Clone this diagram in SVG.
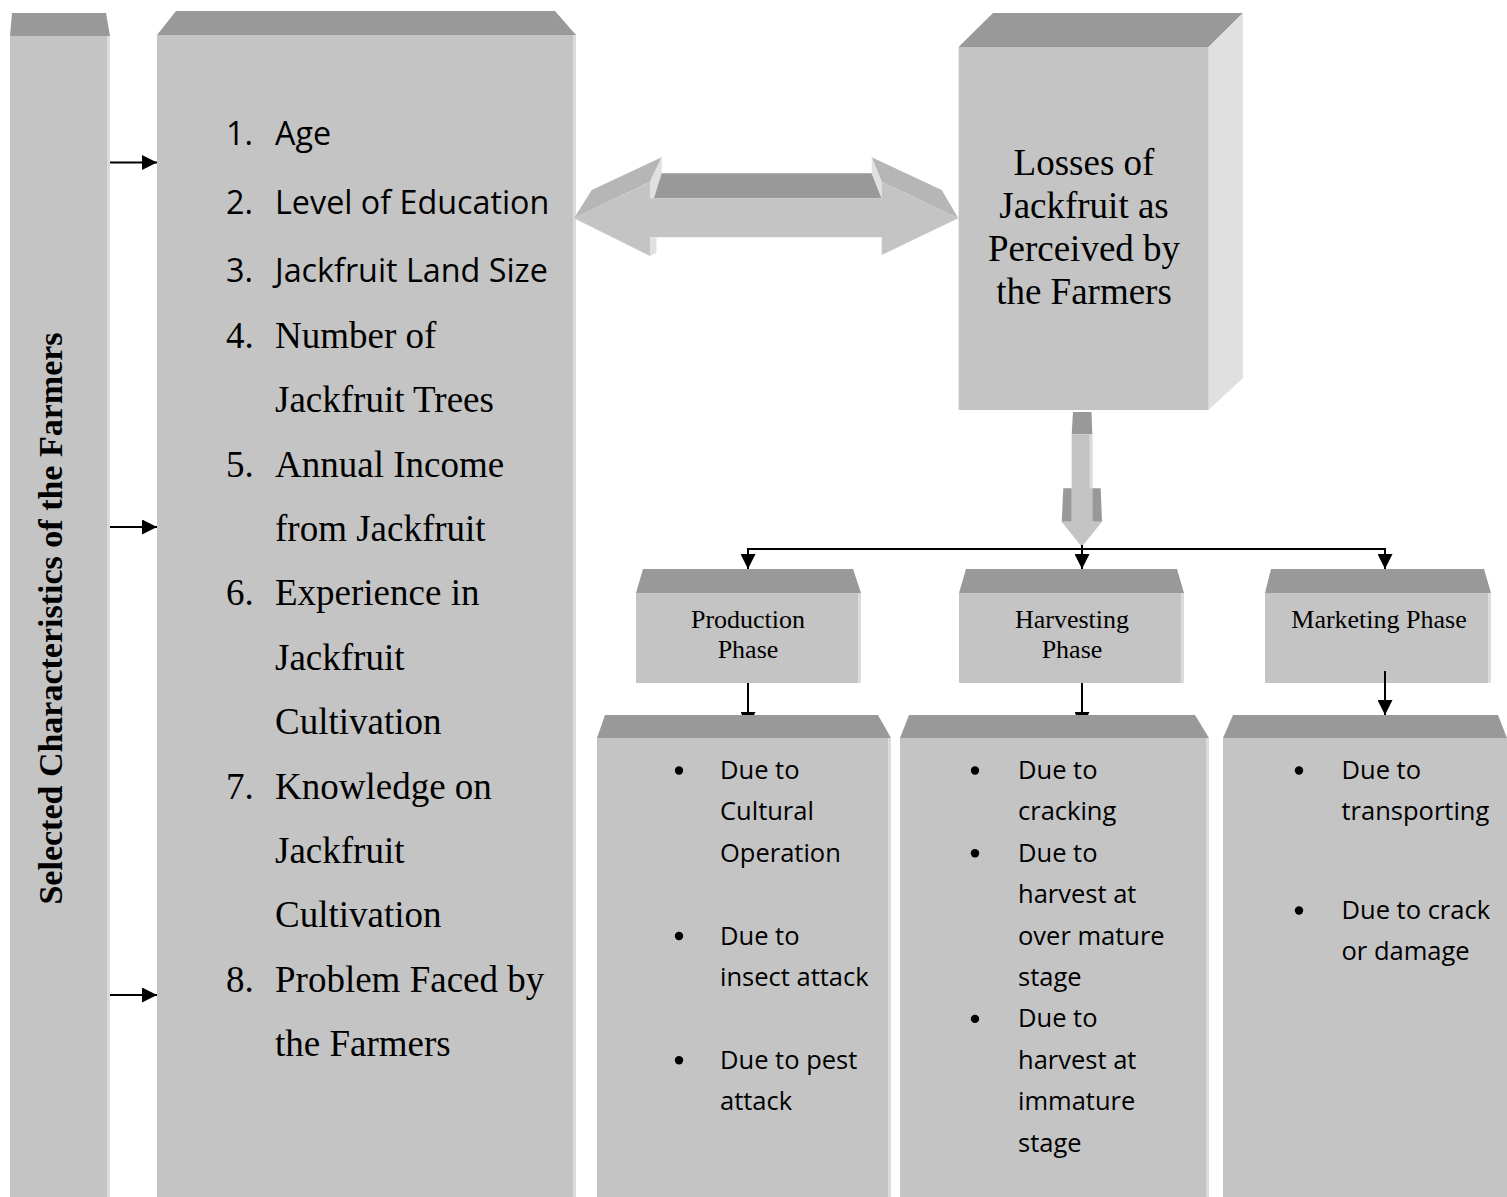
<svg xmlns="http://www.w3.org/2000/svg" width="1507" height="1197" viewBox="0 0 1507 1197">
<style>
.body{fill:#c4c4c4}
.cap{fill:#999999}
.side{fill:#e0e0e0}
.edge{fill:#dcdcdc}
.ext{fill:#b6b6b6}
.serif{font-family:"Liberation Serif","Times New Roman",serif;fill:#000}
.sans{font-family:"Open Sans","Liberation Sans",sans-serif;fill:#000}
.list{font-size:37px}
.lists{font-size:32.3px}
.ph{font-size:26px;text-anchor:middle}
.loss{font-size:37px;text-anchor:middle}
.bt{font-size:25.5px}
.conn{stroke:#000;stroke-width:2;fill:none}
</style>
<defs>
<marker id="ah" viewBox="0 0 15 15" refX="15" refY="7.5" markerWidth="15" markerHeight="15" markerUnits="userSpaceOnUse" orient="auto">
<path d="M0,0 L15,7.5 L0,15 Z" fill="#000"/>
</marker>
</defs>
<rect width="1507" height="1197" fill="#fff"/>

<g id="node-selected">
<polygon class="cap" points="10,36 12,13 106,13 110,36"/>
<rect class="body" x="10" y="36" width="97" height="1161"/>
<rect class="edge" x="107" y="36" width="3" height="1161"/>
<text class="serif" font-size="34" font-weight="bold" text-anchor="middle" transform="translate(62,618.5) rotate(-90)">Selected Characteristics of the Farmers</text>
</g>

<g id="node-characteristics">
<polygon class="cap" points="157,35 176,11 555,11 576,35"/>
<rect class="body" x="157" y="35" width="416" height="1162"/>
<rect class="edge" x="573" y="35" width="3" height="1162"/>
<g class="sans lists">
<text x="226" y="145">1.</text><text x="275" y="145">Age</text>
<text x="226" y="213.5">2.</text><text x="275" y="213.5">Level of Education</text>
<text x="226" y="282">3.</text><text x="275" y="282">Jackfruit Land Size</text>
</g>
<g class="serif list">
<text x="226" y="348.3">4.</text><text x="275" y="348.3">Number of</text>
<text x="275" y="412">Jackfruit Trees</text>
<text x="226" y="476.7">5.</text><text x="275" y="476.7">Annual Income</text>
<text x="275" y="541">from Jackfruit</text>
<text x="226" y="605.3">6.</text><text x="275" y="605.3">Experience in</text>
<text x="275" y="669.6">Jackfruit</text>
<text x="275" y="734">Cultivation</text>
<text x="226" y="798.6">7.</text><text x="275" y="798.6">Knowledge on</text>
<text x="275" y="863">Jackfruit</text>
<text x="275" y="927.3">Cultivation</text>
<text x="226" y="991.7">8.</text><text x="275" y="991.7">Problem Faced by</text>
<text x="275" y="1056">the Farmers</text>
</g>
</g>

<g id="node-losses">
<polygon class="cap" points="958.6,47 993,13 1243,13 1208.5,47"/>
<polygon class="side" points="1208.5,47 1243,13 1243,378 1208.5,410"/>
<rect class="body" x="958.6" y="47" width="249.9" height="363"/>
<g class="serif loss">
<text x="1084" y="175">Losses of</text>
<text x="1084" y="218">Jackfruit as</text>
<text x="1084" y="261">Perceived by</text>
<text x="1084" y="304">the Farmers</text>
</g>
</g>

<g id="node-production">
<polygon class="cap" points="636,593 643,569 853,569 861,593"/>
<rect class="body" x="636" y="593" width="222" height="90"/>
<rect class="edge" x="858" y="593" width="3" height="90"/>
<text class="serif ph" x="748" y="628">Production</text>
<text class="serif ph" x="748" y="658">Phase</text>
</g>

<g id="node-harvesting">
<polygon class="cap" points="959,593 966,569 1177,569 1184,593"/>
<rect class="body" x="959" y="593" width="222" height="90"/>
<rect class="edge" x="1181" y="593" width="3" height="90"/>
<text class="serif ph" x="1072" y="628">Harvesting</text>
<text class="serif ph" x="1072" y="658">Phase</text>
</g>

<g id="node-marketing">
<polygon class="cap" points="1265,593 1271,569 1484,569 1491,593"/>
<rect class="body" x="1265" y="593" width="223" height="90"/>
<rect class="edge" x="1488" y="593" width="3" height="90"/>
<text class="serif ph" x="1379" y="628">Marketing Phase</text>
</g>

<g id="connectors">
<line class="conn" x1="110" y1="162.5" x2="157" y2="162.5" marker-end="url(#ah)"/>
<line class="conn" x1="110" y1="527" x2="157" y2="527" marker-end="url(#ah)"/>
<line class="conn" x1="110" y1="995" x2="157" y2="995" marker-end="url(#ah)"/>
<g id="double-arrow">
<polygon class="cap" points="652.7,198.3 658.3,173.3 871.7,173.3 881.7,198.3"/>
<polygon class="ext" points="574,218.3 591.7,190 661.7,157.3 650,181.7"/>
<polygon class="ext" points="958.3,218.3 941.7,190 871.7,157.3 881.7,181.7"/>
<polygon class="side" points="650,198.3 650,181.7 661.7,157.3 661.7,173.3 654,198.3"/>
<polygon class="side" points="871.7,157.3 881.7,181.7 881.7,198.3 871.7,173.3"/>
<polygon class="body" points="574,218.3 650,181.7 650,198.3 881.7,198.3 881.7,181.7 958.3,218.3 881.7,255 881.7,237.3 650,237.3 650,256"/>
<polygon class="side" points="650,237.3 656.5,237.3 656.5,253 650,256"/>
</g>
<g id="down-arrow">
<polygon class="cap" points="1073,412 1091.5,412 1092.3,434.3 1071.7,434.3"/>
<rect class="body" x="1071.7" y="434.3" width="20.6" height="88"/>
<rect class="edge" x="1089.5" y="434.3" width="2.8" height="54"/>
<polygon class="cap" points="1063.3,488.3 1071.7,488.3 1071.7,521.7 1061.7,521.7"/>
<polygon class="cap" points="1092.3,488.3 1100.7,488.3 1102,521.7 1092.3,521.7"/>
<polygon class="body" points="1061.7,521.7 1102,521.7 1081.7,546.7"/>
</g>
<line class="conn" x1="747" y1="549" x2="1386" y2="549"/>
<line class="conn" x1="748" y1="549" x2="748" y2="569" marker-end="url(#ah)"/>
<line class="conn" x1="1082" y1="545" x2="1082" y2="569" marker-end="url(#ah)"/>
<line class="conn" x1="1385" y1="549" x2="1385" y2="569" marker-end="url(#ah)"/>
<line class="conn" x1="748" y1="683" x2="748" y2="727" marker-end="url(#ah)"/>
<line class="conn" x1="1082" y1="683" x2="1082" y2="727" marker-end="url(#ah)"/>
<line class="conn" x1="1385" y1="671" x2="1385" y2="715" marker-end="url(#ah)"/>
</g>

<g id="node-production-losses">
<polygon class="cap" points="597,738 605,715 878,715 891,738"/>
<rect class="body" x="597" y="738" width="291" height="459"/>
<rect class="edge" x="888" y="738" width="3" height="459"/>
<g fill="#000"><circle cx="679" cy="770.5" r="4.2"/><circle cx="679" cy="936" r="4.2"/><circle cx="679" cy="1060.3" r="4.2"/></g>
<g class="sans bt">
<text x="720" y="779">Due to</text>
<text x="720" y="820.4">Cultural</text>
<text x="720" y="861.8">Operation</text>
<text x="720" y="944.6">Due to</text>
<text x="720" y="986">insect attack</text>
<text x="720" y="1068.8">Due to pest</text>
<text x="720" y="1110.2">attack</text>
</g>
</g>

<g id="node-harvesting-losses">
<polygon class="cap" points="900,738 909,715 1195,715 1209,738"/>
<rect class="body" x="900" y="738" width="306" height="459"/>
<rect class="edge" x="1206" y="738" width="3" height="459"/>
<g fill="#000"><circle cx="975" cy="770.5" r="4.2"/><circle cx="975" cy="853.3" r="4.2"/><circle cx="975" cy="1018.9" r="4.2"/></g>
<g class="sans bt">
<text x="1018" y="779">Due to</text>
<text x="1018" y="820.4">cracking</text>
<text x="1018" y="861.8">Due to</text>
<text x="1018" y="903.2">harvest at</text>
<text x="1018" y="944.6">over mature</text>
<text x="1018" y="986">stage</text>
<text x="1018" y="1027.4">Due to</text>
<text x="1018" y="1068.8">harvest at</text>
<text x="1018" y="1110.2">immature</text>
<text x="1018" y="1151.6">stage</text>
</g>
</g>

<g id="node-marketing-losses">
<polygon class="cap" points="1223,738 1233,715 1498,715 1507,738"/>
<rect class="body" x="1223" y="738" width="284" height="459"/>
<g fill="#000"><circle cx="1299" cy="770.5" r="4.2"/><circle cx="1299" cy="910.5" r="4.2"/></g>
<g class="sans bt">
<text x="1341.5" y="779">Due to</text>
<text x="1341.5" y="820.4">transporting</text>
<text x="1341.5" y="919">Due to crack</text>
<text x="1341.5" y="960.4">or damage</text>
</g>
</g>
</svg>
